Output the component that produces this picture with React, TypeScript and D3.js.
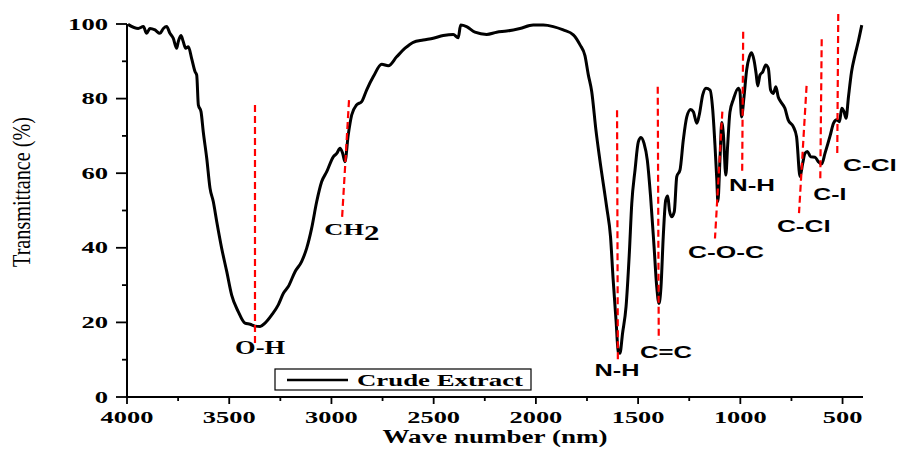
import React from 'react';
import * as d3 from 'd3';

// Wave number (cm-1 labelled "nm") and transmittance (%)
const wavenumber = [3995, 3945, 3920, 3904, 3888, 3863, 3839, 3822, 3806, 3790, 3774, 3757, 3749, 3736, 3725, 3713, 3700, 3684, 3667, 3659, 3651, 3638, 3627, 3610, 3594, 3578, 3561, 3537, 3512, 3488, 3456, 3423, 3398, 3374, 3349, 3325, 3292, 3260, 3235, 3211, 3178, 3146, 3121, 3097, 3072, 3048, 3023, 2991, 2974, 2958, 2945, 2934, 2918, 2901, 2877, 2852, 2828, 2795, 2754, 2722, 2681, 2640, 2600, 2551, 2502, 2453, 2404, 2380, 2368, 2339, 2298, 2241, 2192, 2143, 2078, 2013, 1964, 1915, 1866, 1817, 1784, 1760, 1744, 1727, 1706, 1687, 1654, 1635, 1622, 1608, 1597, 1589, 1576, 1559, 1543, 1531, 1515, 1499, 1486, 1471, 1455, 1439, 1422, 1409, 1398, 1388, 1377, 1365, 1355, 1347, 1336, 1323, 1311, 1295, 1279, 1262, 1243, 1230, 1213, 1201, 1184, 1168, 1148, 1135, 1124, 1115, 1110, 1099, 1091, 1083, 1071, 1062, 1051, 1034, 1010, 1002, 994, 982, 969, 956, 945, 933, 923, 915, 904, 890, 876, 863, 852, 839, 826, 815, 803, 782, 766, 741, 725, 708, 695, 684, 672, 656, 635, 619, 602, 586, 560, 544, 528, 515, 504, 493, 483, 471, 456, 439, 423, 406];
const transmittance = [99.9, 98.8, 99.3, 97.5, 98.8, 98.4, 97.5, 98.8, 99.3, 97.5, 96.2, 93.5, 95.3, 96.9, 95.3, 93.5, 93.9, 90.8, 87.2, 86.3, 78.3, 76.5, 71.1, 64.0, 56.0, 52.4, 47.0, 39.9, 33.6, 27.3, 22.9, 19.8, 19.5, 19.0, 18.9, 19.8, 22.0, 24.7, 27.8, 29.6, 33.6, 36.3, 39.9, 45.2, 52.4, 57.7, 60.4, 64.4, 65.3, 66.7, 65.3, 63.1, 70.2, 75.6, 78.3, 79.2, 82.3, 85.9, 89.2, 88.8, 91.2, 93.5, 95.1, 95.7, 96.2, 96.9, 97.2, 96.3, 99.7, 99.3, 97.8, 97.2, 97.8, 98.1, 98.8, 99.7, 99.7, 99.3, 98.4, 97.1, 94.4, 91.5, 86.5, 81.9, 71.4, 63.5, 51.0, 43.0, 31.4, 20.6, 12.1, 11.7, 17.1, 24.2, 38.5, 51.9, 60.9, 68.4, 69.6, 68.0, 63.5, 53.7, 40.3, 29.6, 25.1, 29.6, 43.0, 52.8, 53.9, 50.1, 48.3, 49.7, 59.1, 60.9, 68.9, 75.1, 77.1, 76.5, 73.4, 75.6, 81.0, 82.8, 82.3, 77.0, 67.5, 58.2, 52.4, 64.5, 73.6, 70.5, 59.5, 67.5, 76.3, 79.8, 82.8, 81.9, 75.1, 80.5, 87.7, 91.2, 92.3, 90.3, 86.8, 83.4, 86.3, 87.2, 89.0, 88.1, 82.3, 81.4, 83.2, 80.5, 79.2, 77.4, 74.3, 72.5, 69.8, 59.1, 62.6, 65.3, 65.8, 64.4, 64.3, 63.1, 62.5, 65.3, 70.2, 73.4, 74.3, 73.8, 77.4, 76.5, 74.7, 80.5, 87.2, 91.7, 95.3, 99.7];

const xTickValues = [4000, 3500, 3000, 2500, 2000, 1500, 1000, 500];
const xMinorTicks = [3750, 3250, 2750, 2250, 1750, 1250, 750];
const yTickValues = [0, 20, 40, 60, 80, 100];
const yMinorTicks = [10, 30, 50, 70, 90];

const seriesName = 'Crude Extract';
const xTitle = 'Wave number (nm)';
const yTitle = 'Transmittance (%)';

// Band annotations (wave number / transmittance of dashed marker ends and label anchors)
const bandLabels = ['O-H', 'CH2', 'N-H', 'C=C', 'C-O-C', 'N-H', 'C-Cl', 'C-I', 'C-Cl'];
const bandTopWn = [3374, 2914, 1603, 1404, 1088, 986, 676, 602, 521];
const bandTopT = [78.3, 79.6, 76.9, 83.2, 76.5, 97.9, 83.4, 95.9, 102.7];
const bandBottomWn = [3374, 2948, 1599, 1399, 1124, 991, 713, 609, 526];
const bandBottomT = [13.9, 48.0, 9.4, 15.3, 42.5, 60.1, 49.3, 57.7, 64.6];
const labelWn = [3349, 2900, 1603, 1364, 1070, 943, 689, 562, 366];
const labelT = [11.5, 43.4, 5.6, 10.5, 37.3, 55.2, 44.2, 52.8, 60.6];

// styles
const labelSerif = [true, true, false, false, false, false, false, false, false];
const labelWidths = [50, 55, 45, 52, 76, 46, 54, 33, 54];

const W = 899;
const H = 455;
const SERIF = '"Liberation Serif", "Times New Roman", serif';
const SANS = '"Liberation Sans", Arial, sans-serif';

export default function App() {
  const x = d3.scaleLinear().domain([4000, 400]).range([127, 863]);
  const y = d3.scaleLinear().domain([0, 100]).range([397, 24]);

  const pts = wavenumber.map((w, i) => [w, transmittance[i]] as [number, number]);
  const line = d3
    .line<[number, number]>()
    .x((d) => x(d[0]))
    .y((d) => y(d[1]))
    .curve(d3.curveMonotoneX);

  const x0 = x(4000);
  const x1 = x(400);
  const y0 = y(0);
  const yTop = y(100);

  return (
    <svg
      width={W}
      height={H}
      style={{ position: 'absolute', left: 0, top: 0, background: '#fff' }}
    >
      <rect x={0} y={0} width={W} height={H} fill="#fff" />

      {/* spectrum */}
      <path d={line(pts) || ''} fill="none" stroke="#000" strokeWidth={3} strokeLinejoin="round" />

      {/* dashed band markers */}
      {bandLabels.map((_, i) => (
        <line
          key={'b' + i}
          x1={x(bandTopWn[i])}
          y1={y(bandTopT[i])}
          x2={x(bandBottomWn[i])}
          y2={y(bandBottomT[i])}
          stroke="#ff0000"
          strokeWidth={2.2}
          strokeDasharray="7,4"
        />
      ))}

      {/* axes */}
      <line x1={x0} y1={y0} x2={x1} y2={y0} stroke="#000" strokeWidth={2} />
      <line x1={x0} y1={y0 + 1} x2={x0} y2={yTop} stroke="#000" strokeWidth={2} />

      {xTickValues.map((t) => (
        <g key={'xt' + t}>
          <line x1={x(t)} y1={y0} x2={x(t)} y2={y0 + 7} stroke="#000" strokeWidth={1.8} />
          <text
            x={x(t)}
            y={423}
            textAnchor="middle"
            fontFamily={SERIF}
            fontWeight="bold"
            fontSize={17}
            textLength={String(t).length * 13.2}
            lengthAdjust="spacingAndGlyphs"
          >
            {t}
          </text>
        </g>
      ))}
      {xMinorTicks.map((t) => (
        <line key={'xm' + t} x1={x(t)} y1={y0} x2={x(t)} y2={y0 + 4} stroke="#000" strokeWidth={1.8} />
      ))}

      {yTickValues.map((t) => (
        <g key={'yt' + t}>
          <line x1={x0} y1={y(t)} x2={x0 - 11} y2={y(t)} stroke="#000" strokeWidth={1.8} />
          <text
            x={108}
            y={y(t) + 5.5}
            textAnchor="end"
            fontFamily={SERIF}
            fontWeight="bold"
            fontSize={16}
            textLength={String(t).length * 13.3}
            lengthAdjust="spacingAndGlyphs"
          >
            {t}
          </text>
        </g>
      ))}
      {yMinorTicks.map((t) => (
        <line key={'ym' + t} x1={x0} y1={y(t)} x2={x0 - 5} y2={y(t)} stroke="#000" strokeWidth={1.8} />
      ))}

      {/* axis titles */}
      <text
        x={495}
        y={443}
        textAnchor="middle"
        fontFamily={SERIF}
        fontWeight="bold"
        fontSize={18}
        textLength={225}
        lengthAdjust="spacingAndGlyphs"
      >
        {xTitle}
      </text>
      <g transform="translate(30,192) scale(1.3,1) rotate(-90)">
        <text
          x={0}
          y={0}
          textAnchor="middle"
          fontFamily={SERIF}
          fontSize={20}
          textLength={150}
          lengthAdjust="spacingAndGlyphs"
        >
          {yTitle}
        </text>
      </g>

      {/* band labels */}
      {bandLabels.map((lab, i) => {
        const cx = x(labelWn[i]);
        const by = y(labelT[i]);
        if (lab === 'CH2') {
          return (
            <text
              key={'l' + i}
              x={cx}
              y={by}
              textAnchor="middle"
              fontFamily={SERIF}
              fontWeight="bold"
              fontSize={17}
              textLength={labelWidths[i]}
              lengthAdjust="spacingAndGlyphs"
            >
              CH
              <tspan dy={5} fontSize={20}>2</tspan>
            </text>
          );
        }
        return (
          <text
            key={'l' + i}
            x={cx}
            y={by}
            textAnchor="middle"
            fontFamily={labelSerif[i] ? SERIF : SANS}
            fontWeight="bold"
            fontSize={labelSerif[i] ? 19 : 17}
            textLength={labelWidths[i]}
            lengthAdjust="spacingAndGlyphs"
          >
            {lab}
          </text>
        );
      })}

      {/* legend */}
      <rect x={275} y={369} width={256} height={21} fill="#fff" stroke="#000" strokeWidth={1.2} />
      <line x1={287} y1={380} x2={348} y2={380} stroke="#000" strokeWidth={2.6} />
      <text
        x={357}
        y={386}
        fontFamily={SERIF}
        fontWeight="bold"
        fontSize={17}
        textLength={166}
        lengthAdjust="spacingAndGlyphs"
      >
        {seriesName}
      </text>
    </svg>
  );
}
